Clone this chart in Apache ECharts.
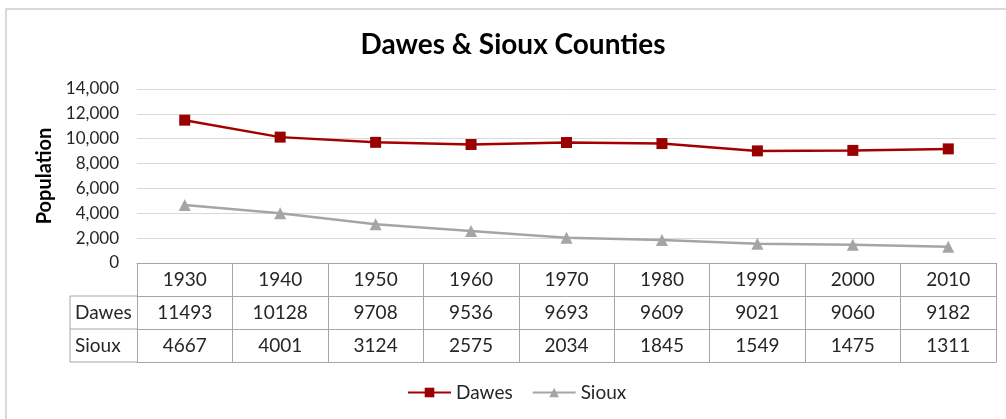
<!DOCTYPE html>
<html>
<head>
<meta charset="utf-8">
<title>Dawes & Sioux Counties</title>
<script src="https://cdn.jsdelivr.net/npm/echarts@6/dist/echarts.min.js"></script>
<style>
    html, body { margin: 0; padding: 0; background: #fff; }
    #chart { width: 1006px; height: 419px; }
</style>
</head>
<body>
<div id="chart"></div>
<script>
var years = ['1930', '1940', '1950', '1960', '1970', '1980', '1990', '2000', '2010'];
var dawes = [11493, 10128, 9708, 9536, 9693, 9609, 9021, 9060, 9182];
var sioux = [4667, 4001, 3124, 2575, 2034, 1845, 1549, 1475, 1311];
var seriesNames = ['Dawes', 'Sioux'];
var yMin = 0, yMax = 14000, yStep = 2000;

(function () {
    var font = 'Lato, "Open Sans", sans-serif';
    var tableLine = '#A6A6A6';
    var textColor = '#262626';

    // plot area, the data table hangs below it
    var plot = { left: 137, top: 89, right: 996, bottom: 263 };
    var rowH = 33;
    var headLeft = 70;

    function commas(v) {
        return String(v).replace(/\B(?=(\d{3})+(?!\d))/g, ',');
    }

    /**
     * one row of the data table, as an extra x axis under the grid
     */
    function tableAxis(labels, row, showLabel) {
        return {
            type: 'category',
            gridIndex: 0,
            position: 'bottom',
            offset: row * rowH,
            data: labels,
            boundaryGap: true,
            axisLine: { show: true, lineStyle: { color: tableLine, width: 1 } },
            axisTick: row === 0
                ? { show: true, length: rowH * 3, lineStyle: { color: tableLine, width: 1 } }
                : { show: false },
            axisLabel: {
                show: showLabel,
                interval: 0,
                margin: 7,
                fontFamily: font,
                fontSize: 19,
                color: textColor
            },
            splitLine: { show: false }
        };
    }

    // row headers and the left part of the table grid
    var head = [];
    var x0 = headLeft, x1 = plot.left;
    var y1 = plot.bottom + rowH, y2 = plot.bottom + rowH * 2, y3 = plot.bottom + rowH * 3;
    head.push({
        type: 'polyline',
        shape: { points: [[x1, y1], [x0, y1], [x0, y3], [x1, y3]] },
        style: { stroke: tableLine, lineWidth: 1, fill: null }
    });
    head.push({
        type: 'line',
        shape: { x1: x0, y1: y2, x2: x1, y2: y2 },
        style: { stroke: tableLine, lineWidth: 1 }
    });
    seriesNames.forEach(function (name, i) {
        head.push({
            type: 'text',
            x: x0 + 5,
            y: plot.bottom + rowH * (i + 1) + rowH / 2,
            style: {
                text: name,
                font: '19px ' + font,
                fill: textColor,
                verticalAlign: 'middle'
            }
        });
    });
    head.push({
        type: 'rect',
        shape: { x: 6, y: 9, width: 1020, height: 430 },
        style: { stroke: '#D9D9D9', lineWidth: 2, fill: null },
        silent: true
    });

    var option = {
        backgroundColor: '#fff',
        animation: false,
        title: {
            text: 'Dawes & Sioux Counties',
            left: 508,
            textAlign: 'center',
            top: 26,
            textStyle: { fontFamily: font, fontSize: 28, fontWeight: 'bold', color: '#000' }
        },
        legend: {
            data: seriesNames,
            left: 407,
            top: 383,
            padding: 0,
            itemWidth: 43,
            itemHeight: 12,
            itemGap: 19,
            textStyle: { fontFamily: font, fontSize: 19, color: textColor }
        },
        grid: {
            left: plot.left,
            top: plot.top,
            width: plot.right - plot.left,
            height: plot.bottom - plot.top,
            containLabel: false
        },
        xAxis: [
            tableAxis(years, 0, true),
            tableAxis(dawes.map(String), 1, true),
            tableAxis(sioux.map(String), 2, true),
            tableAxis(years, 3, false)
        ],
        yAxis: {
            type: 'value',
            min: yMin,
            max: yMax,
            interval: yStep,
            name: 'Population',
            nameLocation: 'middle',
            nameRotate: 90,
            nameGap: 77,
            nameTextStyle: { fontFamily: font, fontSize: 20, fontWeight: 'bold', color: '#000' },
            axisLine: { show: false },
            axisTick: { show: false },
            axisLabel: {
                margin: 18,
                fontFamily: font,
                fontSize: 17,
                color: textColor,
                formatter: commas
            },
            splitLine: { lineStyle: { color: '#D9D9D9', width: 1 } }
        },
        series: [
            {
                name: seriesNames[0],
                type: 'line',
                xAxisIndex: 0,
                data: dawes,
                symbol: 'rect',
                symbolSize: 11,
                lineStyle: { color: '#A50000', width: 2.5 },
                itemStyle: { color: '#990000' }
            },
            {
                name: seriesNames[1],
                type: 'line',
                xAxisIndex: 0,
                data: sioux,
                symbol: 'triangle',
                symbolSize: 12,
                lineStyle: { color: '#A5A5A5', width: 2.5 },
                itemStyle: { color: '#A5A5A5' }
            }
        ],
        graphic: head
    };

    var myChart = echarts.init(document.getElementById('chart'));
    myChart.setOption(option);
})();
</script>
</body>
</html>
